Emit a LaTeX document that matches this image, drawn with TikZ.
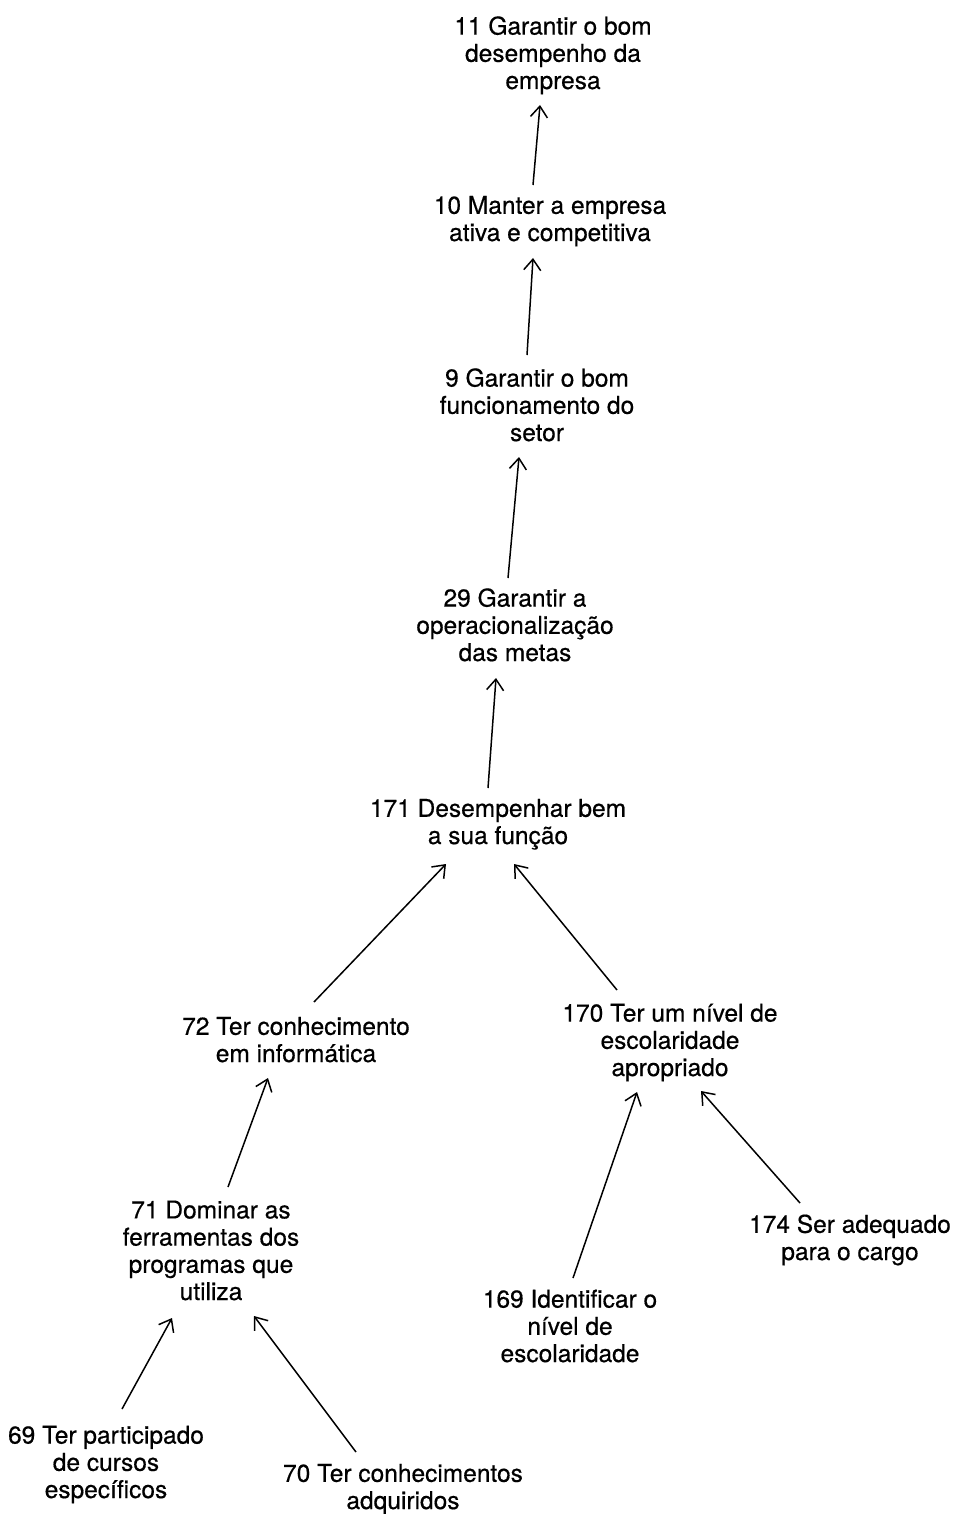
\documentclass[tikz,border=0pt]{standalone}
\usepackage{fontspec}
\setmainfont[FakeBold=0.5]{TeX Gyre Heros}
\usetikzlibrary{arrows.meta,calc}
\begin{document}
\begin{tikzpicture}[x=1pt,y=1pt,
  goal/.style={anchor=base, align=center, inner sep=0pt,
    font=\fontsize{24.5}{27.2}\selectfont},
  link/.style={line width=1.5pt, -{Straight Barb[length=11pt,width=17pt,line width=1.5pt]}}]
\useasboundingbox (0,0) rectangle (956,-1514);
% goals, placed at the baseline of their last line
\node[goal] (n11)  at (553,-89)   {11 Garantir o bom\\desempenho da\\empresa};
\node[goal] (n10)  at (550,-241)  {10 Manter a empresa\\ativa e competitiva};
\node[goal] (n9)   at (537,-441)  {9 Garantir o bom\\funcionamento do\\setor};
\node[goal] (n29)  at (515,-661)  {29 Garantir a\\operacionalização\\das metas};
\node[goal] (n171) at (498,-844)  {171 Desempenhar bem\\a sua função};
\node[goal] (n72)  at (296,-1062) {72 Ter conhecimento\\em informática};
\node[goal] (n170) at (670,-1076) {170 Ter um nível de\\escolaridade\\apropriado};
\node[goal] (n71)  at (211,-1300) {71 Dominar as\\ferramentas dos\\programas que\\utiliza};
\node[goal] (n174) at (850,-1260) {174 Ser adequado\\para o cargo};
\node[goal] (n169) at (570,-1362) {169 Identificar o\\nível de\\escolaridade};
\node[goal] (n69)  at (106,-1498) {69 Ter participado\\de cursos\\específicos};
\node[goal] (n70)  at (403,-1509) {70 Ter conhecimentos\\adquiridos};
% means-end links
\draw[link] ($(n10.base)+(-17,56)$)  -- ($(n11.base)+(-13,-16)$);
\draw[link] ($(n9.base)+(-10,86)$)   -- ($(n10.base)+(-17,-17)$);
\draw[link] ($(n29.base)+(-7,83)$)   -- ($(n9.base)+(-18,-16)$);
\draw[link] ($(n171.base)+(-10,56)$) -- ($(n29.base)+(-19,-17)$);
\draw[link] ($(n72.base)+(18,60)$)   -- ($(n171.base)+(-52,-20)$);
\draw[link] ($(n170.base)+(-53,86)$) -- ($(n171.base)+(16,-20)$);
\draw[link] ($(n71.base)+(17,113)$)  -- ($(n72.base)+(-28,-16)$);
\draw[link] ($(n169.base)+(3,84)$)   -- ($(n170.base)+(-33,-16)$);
\draw[link] ($(n174.base)+(-50,57)$) -- ($(n170.base)+(31,-15)$);
\draw[link] ($(n69.base)+(16,89)$)   -- ($(n71.base)+(-39,-18)$);
\draw[link] ($(n70.base)+(-47,57)$)  -- ($(n71.base)+(43,-16)$);
\end{tikzpicture}
\end{document}
